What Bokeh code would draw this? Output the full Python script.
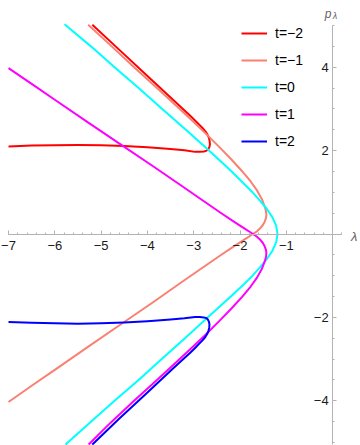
import numpy as np
from bokeh.plotting import figure
from bokeh.models import FixedTicker, Label, Legend, LegendItem
from bokeh.embed import file_html
from bokeh.resources import INLINE

# ---------------- data ----------------
# t = -2 (red)
lam_tm2 = [-7.0, -6.5, -6.0, -5.5, -5.0, -4.5, -4.0, -3.5, -3.2, -2.97, -2.87, -2.78,
           -2.72, -2.68, -2.66, -2.65, -2.655, -2.67, -2.70, -2.74, -2.80, -2.87, -2.95,
           -3.07, -3.43, -4.0, -4.6, -5.19]
p_tm2 = [2.10, 2.12, 2.13, 2.135, 2.13, 2.11, 2.08, 2.04, 2.01, 1.97, 1.97, 1.98,
         2.00, 2.04, 2.09, 2.15, 2.22, 2.30, 2.38, 2.45, 2.53, 2.61, 2.70,
         2.83, 3.20, 3.79, 4.41, 5.02]

# t = -1 (salmon)
lam_tm1 = [-5.28, -4.80, -4.30, -3.80, -3.50, -3.07, -2.75, -2.45, -2.18, -1.95, -1.77,
           -1.63, -1.53, -1.47, -1.44, -1.43, -1.44, -1.47, -1.51, -1.57, -1.64, -1.72,
           -1.90, -2.15, -2.42, -2.85, -3.28, -3.87, -4.58, -5.30, -6.00, -6.50, -7.00]
p_tm1 = [5.02, 4.53, 4.01, 3.51, 3.20, 2.76, 2.42, 2.09, 1.78, 1.50, 1.26,
         1.04, 0.84, 0.67, 0.55, 0.46, 0.38, 0.29, 0.21, 0.13, 0.06, 0.00,
         -0.13, -0.31, -0.51, -0.84, -1.17, -1.63, -2.17, -2.72, -3.26, -3.64, -4.03]

# t = 0 (cyan)
lam_t0 = [-5.79, -5.22, -4.71, -4.19, -3.68, -3.17, -2.67, -2.18, -1.91, -1.73, -1.57,
          -1.42, -1.30, -1.22, -1.19, -1.22, -1.30, -1.42, -1.57, -1.73, -1.91, -2.20,
          -2.70, -3.19, -3.69, -4.19, -4.71, -5.22, -5.77]
p_t0 = [5.03, 4.5, 4.0, 3.5, 3.0, 2.5, 2.0, 1.5, 1.2, 1.0, 0.8,
        0.6, 0.4, 0.2, 0.0, -0.2, -0.4, -0.6, -0.8, -1.0, -1.2, -1.5,
        -2.0, -2.5, -3.0, -3.5, -4.0, -4.5, -5.05]

# t = 1 (magenta)
lam_t1 = [-5.27, -4.80, -4.30, -3.80, -3.50, -3.07, -2.75, -2.45, -2.18, -1.95, -1.77,
          -1.63, -1.53, -1.47, -1.44, -1.43, -1.44, -1.47, -1.51, -1.57, -1.64, -1.72,
          -1.90, -2.15, -2.42, -2.85, -3.28, -3.87, -4.58, -5.30, -6.00, -6.50, -7.00]
p_t1 = [-5.05, -4.53, -4.01, -3.51, -3.20, -2.76, -2.42, -2.09, -1.78, -1.50, -1.26,
        -1.04, -0.84, -0.67, -0.55, -0.46, -0.38, -0.29, -0.21, -0.13, -0.06, 0.00,
        0.13, 0.31, 0.51, 0.84, 1.17, 1.62, 2.15, 2.69, 3.22, 3.60, 3.98]

# t = 2 (blue)
lam_t2 = [-7.0, -6.5, -6.0, -5.5, -5.0, -4.5, -4.0, -3.5, -3.2, -2.97, -2.87, -2.78,
          -2.72, -2.69, -2.67, -2.66, -2.665, -2.68, -2.71, -2.75, -2.81, -2.88, -2.96,
          -3.07, -3.43, -4.0, -4.6, -5.19]
p_t2 = [-2.11, -2.13, -2.14, -2.15, -2.14, -2.12, -2.09, -2.05, -2.02, -1.99, -1.99, -2.00,
        -2.02, -2.06, -2.11, -2.17, -2.24, -2.32, -2.40, -2.47, -2.55, -2.63, -2.72,
        -2.84, -3.21, -3.80, -4.42, -5.05]

series_labels = ["t=\u22122", "t=\u22121", "t=0", "t=1", "t=2"]
series_colors = ["#ff0000", "#fa8072", "#00ffff", "#ff00ff", "#0000ff"]

x_ticks = [-7, -6, -5, -4, -3, -2, -1]
x_tick_labels = ["\u22127", "\u22126", "\u22125", "\u22124", "\u22123", "\u22122", "\u22121"]
y_ticks = [-4, -2, 2, 4]
y_tick_labels = ["\u22124", "\u22122", "2", "4"]

# ---------------- figure ----------------
p = figure(width=360, height=445, x_range=(-7.173, 0.602), y_range=(-5.072, 5.600),
           output_backend="svg", toolbar_location=None, min_border=0,
           min_border_left=0, min_border_right=0, min_border_top=0, min_border_bottom=0)
p.outline_line_color = None
p.grid.visible = False
p.background_fill_color = "white"

xs = [lam_tm2, lam_tm1, lam_t0, lam_t1, lam_t2]
ys = [p_tm2, p_tm1, p_t0, p_t1, p_t2]
items = []
for x, y, c, lab in zip(xs, ys, series_colors, series_labels):
    r = p.line(x, y, line_color=c, line_width=2, line_join="round")
    items.append(LegendItem(label=lab, renderers=[r]))

axis_col = "#b3b3b3"
for ax in (p.xaxis[0], p.yaxis[0]):
    ax.fixed_location = 0
    ax.axis_line_color = axis_col
    ax.major_tick_line_color = axis_col
    ax.minor_tick_line_color = axis_col
    ax.major_tick_in = 4
    ax.major_tick_out = 0
    ax.minor_tick_in = 2
    ax.minor_tick_out = 0
    ax.major_label_text_font = "Liberation Sans"
    ax.major_label_text_font_size = "13px"
    ax.major_label_text_color = "#1a1a1a"

p.xaxis.ticker = FixedTicker(ticks=x_ticks,
                             minor_ticks=[round(v, 2) for v in np.arange(-7, 0.21, 0.2)])
p.xaxis.major_label_overrides = {t: s for t, s in zip(x_ticks, x_tick_labels)}
p.xaxis.bounds = (-7, 0.2)
p.xaxis.major_label_standoff = 7

p.yaxis.ticker = FixedTicker(ticks=y_ticks,
                             minor_ticks=[round(v, 2) for v in np.arange(-5, 5.01, 0.5)])
p.yaxis.major_label_overrides = {t: s for t, s in zip(y_ticks, y_tick_labels)}
p.yaxis.bounds = (-5.05, 5.0)
p.yaxis.major_label_standoff = 4

# axis labels
p.add_layout(Label(x=0.2, y=0, text="\u03bb", x_offset=9, y_offset=-2,
                   text_baseline="middle", text_align="left",
                   text_font="Liberation Sans", text_font_style="italic",
                   text_font_size="13px", text_color="#666666"))
p.add_layout(Label(x=0, y=5.0, text="p", x_offset=-8, y_offset=12,
                   text_baseline="alphabetic", text_align="left",
                   text_font="Liberation Sans", text_font_style="italic",
                   text_font_size="12px", text_color="#666666"))
p.add_layout(Label(x=0, y=5.0, text="\u03bb", x_offset=0, y_offset=10,
                   text_baseline="alphabetic", text_align="left",
                   text_font="Liberation Sans", text_font_style="italic",
                   text_font_size="9px", text_color="#666666"))

legend = Legend(items=items, location=(241, 294), padding=0, spacing=7,
                glyph_width=26, glyph_height=20, label_height=20, label_standoff=8,
                label_text_font="Liberation Sans", label_text_font_size="14px",
                label_text_color="#000000", border_line_alpha=0,
                background_fill_alpha=0, margin=0)
p.add_layout(legend)

open("out.html", "w").write(file_html(p, INLINE))
